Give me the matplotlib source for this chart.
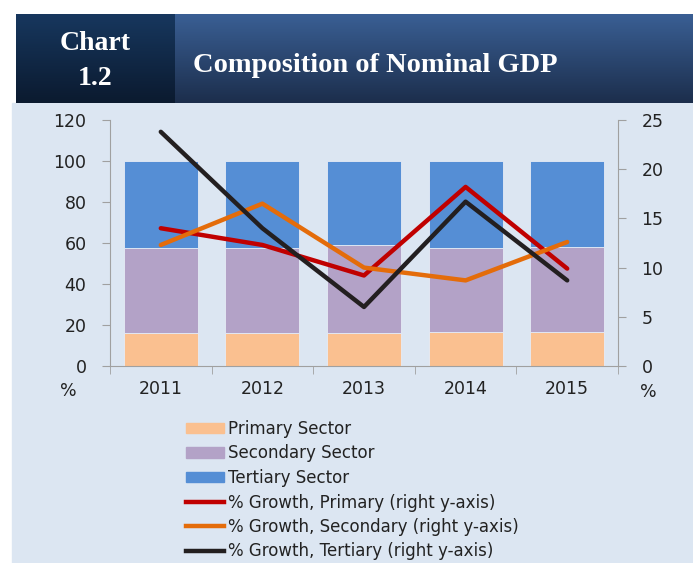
import matplotlib
matplotlib.use("Agg")
import matplotlib.pyplot as plt
import numpy as np
from matplotlib.patches import Rectangle, Patch
from matplotlib.lines import Line2D

plt.rcParams['font.family'] = ['DejaVu Sans']

# data
years = ['2011', '2012', '2013', '2014', '2015']
primary = [16.2, 16.2, 16.2, 16.7, 16.8]
secondary = [41.5, 41.5, 42.7, 41.0, 41.4]
tertiary = [42.3, 42.3, 41.1, 42.3, 41.8]
growth_primary = [14.0, 12.3, 9.2, 18.2, 9.9]
growth_secondary = [12.3, 16.5, 10.0, 8.7, 12.6]
growth_tertiary = [23.8, 14.0, 6.0, 16.7, 8.7]

W, H = 693, 563
fig = plt.figure(figsize=(W / 100, H / 100), dpi=100)
fig.patch.set_facecolor('white')

bg = '#dce6f2'
fig.patches.append(Rectangle((12 / W, 0), 1 - 12 / W, 460 / H,
                             transform=fig.transFigure, color=bg, zorder=-5))

# header boxes with vertical gradients
def grad_box(x0, x1, y0, y1, top, bottom):
    a = fig.add_axes([x0 / W, (H - y1) / H, (x1 - x0) / W, (y1 - y0) / H])
    c0 = np.array(matplotlib.colors.to_rgb(top))
    c1 = np.array(matplotlib.colors.to_rgb(bottom))
    t = np.linspace(0, 1, 100)[:, None, None]
    img = c0 * (1 - t) + c1 * t
    a.imshow(img, aspect='auto', extent=[0, 1, 0, 1])
    a.set_axis_off()
    return a

hb = grad_box(16, 175, 14, 103, '#17375e', '#0b1a2f')
hb.text(0.5, 0.47, 'Chart\n1.2', color='white', fontsize=20, fontweight='bold',
        family='Liberation Serif', ha='center', va='center', linespacing=1.55,
        transform=hb.transAxes)
tb = grad_box(175, 693, 14, 103, '#3a5f94', '#1c2e4c')
tb.text(18 / 518, 0.42, 'Composition of Nominal GDP', color='white', fontsize=20.5,
        fontweight='bold', family='Liberation Serif', ha='left', va='center',
        transform=tb.transAxes)

ax = fig.add_axes([110 / W, (H - 366) / H, 508 / W, 246 / H])
ax.set_facecolor(bg)
x = np.arange(len(years))
bw = 0.73
c_p, c_s, c_t = '#fac090', '#b3a2c7', '#558ed5'
ax.bar(x, primary, bw, color=c_p, edgecolor='#e6ecf6', linewidth=0.6, zorder=2)
ax.bar(x, secondary, bw, bottom=primary, color=c_s, edgecolor='#e6ecf6', linewidth=0.6, zorder=2)
ax.bar(x, tertiary, bw, bottom=np.add(primary, secondary), color=c_t,
       edgecolor='#e6ecf6', linewidth=0.6, zorder=2)
ax.set_xlim(-0.5, 4.5)
ax.set_ylim(0, 120)
ax.set_yticks(range(0, 121, 20))

ax2 = ax.twinx()
ax2.plot(x, growth_primary, color='#c00000', lw=3.2, solid_capstyle='round')
ax2.plot(x, growth_secondary, color='#e46c0a', lw=3.2, solid_capstyle='round')
ax2.plot(x, growth_tertiary, color='#231f20', lw=3.2, solid_capstyle='round')
ax2.set_ylim(0, 25)
ax2.set_yticks(range(0, 26, 5))

spine_c = '#a0a0a0'
for a in (ax, ax2):
    for s in a.spines.values():
        s.set_color(spine_c)
    a.spines['top'].set_visible(False)
ax.spines['right'].set_visible(False)
ax2.spines['left'].set_visible(False)
ax2.spines['bottom'].set_visible(False)

txt_c = '#222222'
ax.set_xticks(x)
ax.set_xticklabels(years)
ax.set_xticks(np.arange(-0.5, 5, 1), minor=True)
ax.tick_params(axis='x', which='major', length=0, pad=10, labelsize=12.5, labelcolor=txt_c)
ax.tick_params(axis='x', which='minor', length=6, color=spine_c, direction='out')
ax.tick_params(axis='y', length=6, color=spine_c, labelsize=12.5, labelcolor=txt_c, pad=11)
ax2.tick_params(axis='y', length=6, color=spine_c, labelsize=12.5, labelcolor=txt_c, pad=11)

fig.text(68 / W, 1 - 391 / H, '%', fontsize=12.5, color=txt_c, ha='center', va='center')
fig.text(648 / W, 1 - 392 / H, '%', fontsize=12.5, color=txt_c, ha='center', va='center')

handles = [
    Patch(color=c_p, label='Primary Sector'),
    Patch(color=c_s, label='Secondary Sector'),
    Patch(color=c_t, label='Tertiary Sector'),
    Line2D([], [], color='#c00000', lw=3.2, label='% Growth, Primary (right y-axis)'),
    Line2D([], [], color='#e46c0a', lw=3.2, label='% Growth, Secondary (right y-axis)'),
    Line2D([], [], color='#231f20', lw=3.2, label='% Growth, Tertiary (right y-axis)'),
]
leg = fig.legend(handles=handles, loc='upper left', bbox_to_anchor=(186 / W, 1 - 420 / H),
                 frameon=False, fontsize=12, handlelength=2.3, handleheight=0.6,
                 handletextpad=0.2, labelspacing=0.39, borderpad=0, borderaxespad=0)
for t in leg.get_texts():
    t.set_color(txt_c)

fig.savefig('out.png', dpi=100)
